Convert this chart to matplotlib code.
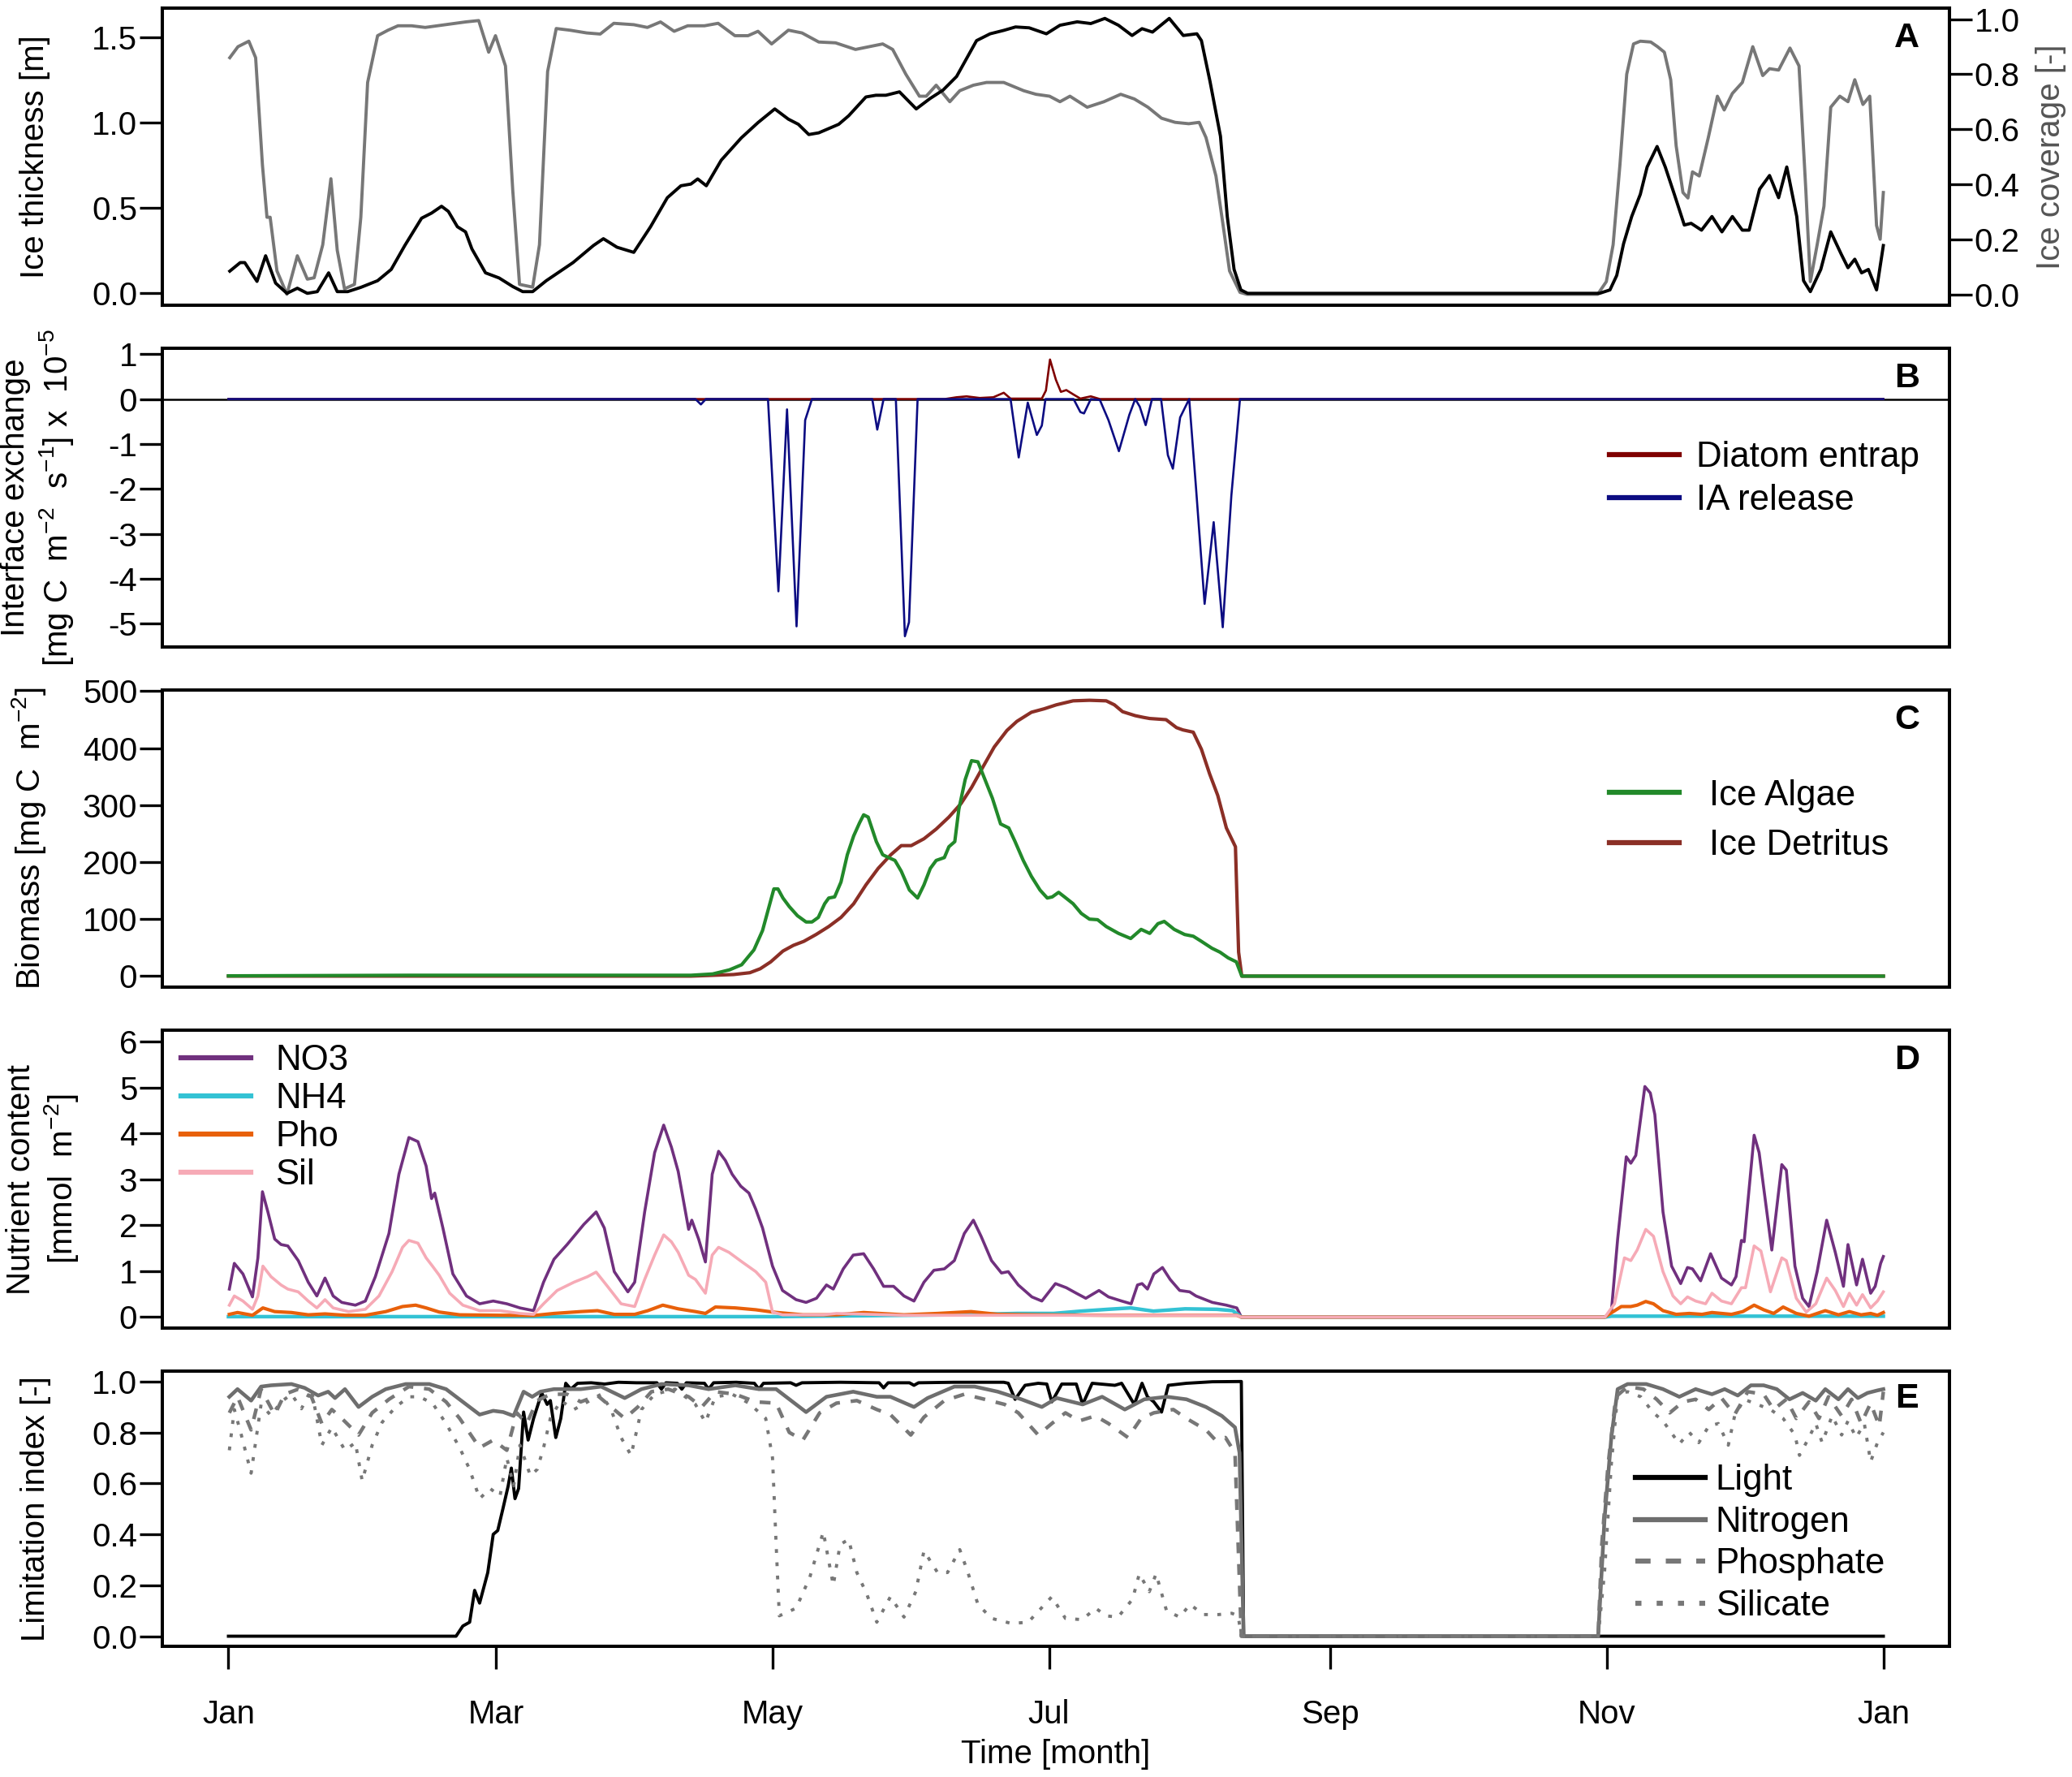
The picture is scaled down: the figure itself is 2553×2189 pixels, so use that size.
import numpy as np
import matplotlib
matplotlib.use('Agg')
import matplotlib.pyplot as plt

# ---- data (day of year) ----
month_days = [0, 59, 120, 181, 243, 304, 365]
month_labels = ['Jan', 'Mar', 'May', 'Jul', 'Sep', 'Nov', 'Jan']

# A: ice thickness [m] and ice coverage [-]
thick_days = [0.3, 2.6, 3.6, 6.3, 8.2, 10.4, 12.9, 15.2, 17.4, 19.6, 22.1, 24.0, 26.3, 29.2, 32.9,
              35.9, 38.9, 42.6, 44.8, 47.0, 48.5, 50.5, 52.3, 53.7, 56.7, 59.7, 62.7, 64.9, 67.1,
              70.1, 76.0, 80.5, 82.7, 85.7, 89.4, 93.1, 96.8, 99.8, 102.0, 103.5, 105.4, 108.7,
              113.1, 116.8, 120.5, 123.5, 125.7, 128.0, 130.2, 134.6, 136.8, 140.6, 142.8, 145.0,
              148.0, 151.7, 154.7, 157.6, 160.6, 165.0, 168.0, 171.0, 173.6, 176.6, 180.4, 183.4,
              187.2, 190.2, 193.3, 196.3, 199.3, 201.5, 203.8, 207.5, 210.6, 213.6, 214.6, 216.5,
              218.8, 220.3, 221.8, 223.3, 224.8, 302.4, 304.7, 306.2, 307.7, 309.5, 311.4, 312.9,
              315.1, 316.9, 318.9, 321.1, 322.6, 324.9, 327.2, 329.4, 331.7, 333.9, 335.4, 337.7,
              339.9, 341.9, 343.7, 345.9, 347.4, 348.9, 351.2, 353.4, 355.7, 357.2, 358.7, 360.2,
              361.7, 363.5, 365.0]
thick_vals = [0.13, 0.18, 0.18, 0.07, 0.22, 0.06, 0.0, 0.03, 0.0, 0.01, 0.12, 0.01, 0.01, 0.035, 0.074,
              0.14, 0.28, 0.44, 0.47, 0.51, 0.48, 0.39, 0.36, 0.26, 0.12, 0.09, 0.04, 0.01, 0.01,
              0.074, 0.18, 0.28, 0.32, 0.27, 0.24, 0.39, 0.56, 0.63, 0.64, 0.67, 0.63, 0.78,
              0.91, 1.00, 1.08, 1.02, 0.99, 0.93, 0.94, 0.99, 1.04, 1.15, 1.16, 1.16,
              1.18, 1.08, 1.14, 1.19, 1.27, 1.48, 1.52, 1.54, 1.56, 1.555, 1.52, 1.57,
              1.59, 1.58, 1.61, 1.57, 1.51, 1.55, 1.53, 1.61, 1.51, 1.52, 1.48, 1.24,
              0.92, 0.45, 0.14, 0.02, 0.0, 0.0, 0.02, 0.105, 0.29, 0.45, 0.58, 0.74,
              0.86, 0.74, 0.58, 0.40, 0.41, 0.37, 0.45, 0.36, 0.45, 0.37, 0.37, 0.61,
              0.69, 0.56, 0.74, 0.45, 0.074, 0.01, 0.14, 0.36, 0.23, 0.15, 0.20, 0.12,
              0.14, 0.02, 0.28]

cover_days = [0.3, 2.1, 4.5, 6.0, 7.5, 8.5, 9.2, 10.7, 12.9, 15.2, 17.4, 18.9, 20.8, 22.6, 24.0,
              25.6, 27.8, 29.2, 30.7, 32.9, 35.2, 37.4, 40.4, 43.4, 47.8, 52.3, 55.2, 57.4, 58.9,
              61.1, 62.7, 64.2, 67.1, 68.6, 70.4, 72.3, 75.3, 79.0, 82.0, 85.0, 89.4, 92.4, 95.3,
              98.3, 101.3, 105.0, 108.0, 111.7, 114.6, 116.8, 119.8, 123.5, 126.5, 130.2, 133.9,
              138.3, 141.3, 144.3, 146.5, 149.4, 152.4, 153.9, 156.1, 159.1, 161.3, 164.3, 167.2,
              171.0, 175.4, 178.1, 181.1, 183.4, 185.6, 189.4, 193.1, 196.8, 199.8, 202.8, 205.8,
              208.8, 211.8, 214.1, 215.6, 217.8, 219.3, 220.8, 223.1, 224.6, 302.0, 303.9, 305.4,
              306.9, 308.4, 309.9, 311.4, 313.7, 315.2, 316.7, 318.1, 319.3, 320.8, 321.9, 322.9,
              324.4, 326.4, 328.4, 329.9, 331.7, 333.9, 336.2, 338.4, 339.9, 341.9, 344.4, 346.4,
              347.9, 348.9, 350.4, 351.9, 353.4, 355.4, 357.2, 358.7, 360.5, 362.0, 363.5, 364.3,
              365.0]
cover_vals = [0.86, 0.90, 0.92, 0.86, 0.47, 0.28, 0.28, 0.085, 0.0, 0.14, 0.055, 0.06, 0.18, 0.42, 0.16,
              0.02, 0.036, 0.28, 0.77, 0.94, 0.96, 0.976, 0.976, 0.97, 0.98, 0.99, 0.995, 0.88, 0.94,
              0.83, 0.38, 0.036, 0.026, 0.18, 0.81, 0.966, 0.96, 0.95, 0.946, 0.985, 0.98, 0.97, 0.99,
              0.956, 0.976, 0.976, 0.985, 0.94, 0.94, 0.956, 0.91, 0.96, 0.95, 0.917, 0.914,
              0.89, 0.90, 0.91, 0.89, 0.80, 0.72, 0.72, 0.76, 0.70, 0.74, 0.76, 0.77,
              0.77, 0.74, 0.727, 0.72, 0.70, 0.72, 0.68, 0.70, 0.727, 0.71, 0.68, 0.64,
              0.625, 0.62, 0.625, 0.57, 0.43, 0.26, 0.085, 0.007, 0.0, 0.0, 0.046, 0.18,
              0.47, 0.80, 0.91, 0.92, 0.917, 0.90, 0.88, 0.78, 0.54, 0.37, 0.35, 0.445,
              0.43, 0.57, 0.72, 0.67, 0.73, 0.77, 0.90, 0.795, 0.82, 0.815, 0.895, 0.83,
              0.38, 0.046, 0.18, 0.32, 0.68, 0.72, 0.70, 0.78, 0.69, 0.72, 0.25, 0.20,
              0.37]

# B: interface exchange [mg C m-2 s-1] x 1e-5
entrap_days = [0, 158.0, 160.6, 162.8, 165.7, 168.7, 171.0, 172.5, 179.4, 180.3, 181.2, 182.5,
               183.6, 184.8, 186.4, 187.9, 190.2, 192.2, 365]
entrap_vals = [0, 0, 0.04, 0.06, 0.024, 0.04, 0.14, 0.01, 0.01, 0.19, 0.88, 0.43,
               0.16, 0.20, 0.10, 0.01, 0.06, 0.0, 0]

release_days = [0, 103.0, 104.2, 105.3, 119.0, 121.3, 123.2, 125.3, 127.2, 128.7, 142.0, 143.1,
                144.5, 147.2, 149.2, 150.1, 152.0, 172.5, 174.3, 176.3, 178.3, 179.4, 180.2,
                186.4, 187.9, 188.7, 190.2, 192.2, 194.1, 196.4, 198.7, 200.0, 201.0, 202.3,
                203.7, 205.7, 207.2, 208.3, 209.9, 211.9, 213.4, 215.3, 217.3, 219.3, 221.2,
                223.1, 365]
release_vals = [0, 0, -0.12, 0, 0, -4.28, -0.23, -5.06, -0.47, 0, 0, -0.68,
                0, 0, -5.28, -4.97, 0, 0, -1.30, -0.08, -0.80, -0.59, 0,
                0, -0.29, -0.32, 0, -0.02, -0.47, -1.16, -0.35, 0, -0.17, -0.58,
                0, 0, -1.25, -1.55, -0.41, 0, -1.97, -4.56, -2.74, -5.08, -2.15,
                0, 0]

# C: biomass [mg C m-2]
algae_days = [0, 40, 93, 102, 106.8, 110.5, 113.2, 115.9, 117.8, 119.1, 120.3, 121.2, 122.3, 123.7,
              125.5, 127.4, 128.7, 130.1, 131.5, 132.4, 133.7, 135.1, 136.5, 137.9, 139.2, 140.1,
              141.1, 142.9, 144.3, 145.6, 147.0, 148.4, 150.2, 152.0, 153.4, 154.8, 156.1, 157.9,
              158.9, 160.2, 161.1, 162.5, 163.9, 165.3, 166.6, 168.5, 170.3, 172.1, 173.5, 175.3,
              177.1, 179.0, 180.6, 181.7, 183.1, 184.4, 186.3, 188.1, 189.9, 191.7, 193.6, 196.3,
              199.0, 201.3, 203.2, 205.0, 206.4, 208.6, 210.9, 212.8, 214.6, 216.9, 218.7, 220.5,
              222.3, 223.5, 365]
algae_vals = [0.5, 1.5, 1.5, 1.5, 3.8, 11, 20, 46, 80, 118, 153, 153, 137, 122,
              106, 95, 95, 103, 127, 137, 139, 165, 213, 246, 269, 283,
              279, 236, 213, 208, 203, 184, 151, 137, 160, 189, 203, 208,
              227, 236, 293, 345, 378, 376, 350, 312, 267, 260, 236, 203,
              175, 151, 137, 139, 147, 139, 127, 110, 100, 99, 87, 75,
              66, 82, 75, 92, 96, 82, 73, 70, 61, 49, 42, 32,
              25, 0, 0]

detritus_days = [0, 102, 106.8, 111.4, 115.0, 117.3, 119.6, 122.3, 124.6, 126.9, 129.6, 132.4, 135.1,
                 137.9, 140.6, 143.3, 146.1, 148.4, 150.6, 153.4, 156.1, 158.9, 161.6, 163.9, 166.2,
                 168.9, 171.7, 173.9, 177.1, 179.9, 182.6, 186.3, 189.9, 193.6, 195.4, 197.2, 200.0,
                 201.8, 203.2, 206.8, 209.1, 210.5, 212.8, 214.6, 216.4, 218.2, 220.1, 222.1, 222.8,
                 223.5, 365]
detritus_vals = [0, 0, 1.4, 2.8, 6, 13, 25, 44, 54, 61, 73, 87, 103,
                 127, 160, 189, 213, 229, 229, 241, 258, 279, 303, 331, 364,
                 402, 431, 447, 463, 469, 476, 483, 484, 483, 476, 464, 457,
                 454, 452, 450, 436, 432, 428, 398, 355, 317, 260, 227, 42,
                 0, 0]

# D: nutrient content [mmol m-2]
no3_days = [0.2, 1.3, 3.2, 5.3, 6.5, 7.5, 8.7, 10.2, 11.6, 13.1, 15.4, 17.6, 19.5, 21.3, 23.1, 25.0,
            28.0, 30.2, 32.4, 35.4, 37.6, 39.8, 41.8, 43.6, 44.8, 45.5, 47.3, 49.5, 52.5, 55.4, 58.4,
            61.4, 64.3, 67.3, 69.5, 71.8, 74.7, 78.4, 81.1, 82.9, 85.1, 88.1, 89.6, 91.8, 94.0, 96.0,
            97.7, 99.2, 101.5, 102.2, 103.7, 105.2, 106.7, 108.1, 109.6, 111.1, 113.0, 114.8, 116.3,
            117.8, 120.0, 122.2, 125.2, 127.4, 129.7, 131.9, 133.4, 135.6, 137.8, 140.1, 142.3, 144.5,
            146.7, 149.0, 151.2, 153.4, 155.6, 157.9, 160.1, 162.3, 164.3, 166.0, 168.3, 170.5, 172.0,
            174.2, 177.2, 179.4, 182.4, 184.8, 187.0, 189.1, 192.0, 194.1, 197.0, 199.1, 200.5, 201.5,
            202.7, 204.1, 206.0, 207.7, 209.8, 212.0, 213.4, 217.0, 220.1, 222.4, 223.4, 303.6, 305.0,
            306.4, 308.3, 309.3, 310.4, 312.4, 313.6, 314.6, 316.4, 318.3, 320.3, 321.8, 322.9, 324.7,
            326.9, 329.3, 331.5, 332.5, 333.7, 334.3, 336.5, 337.6, 340.4, 342.6, 343.6, 345.5, 347.2,
            348.6, 350.4, 352.5, 354.4, 356.2, 357.2, 359.1, 360.4, 362.2, 363.2, 364.4, 365.0]
no3_vals = [0.61, 1.17, 0.94, 0.44, 1.29, 2.73, 2.29, 1.70, 1.58, 1.55, 1.23, 0.76, 0.46, 0.85, 0.46, 0.32,
            0.26, 0.35, 0.88, 1.82, 3.11, 3.91, 3.82, 3.29, 2.58, 2.70, 1.94, 0.94, 0.46, 0.29, 0.35,
            0.29, 0.20, 0.14, 0.76, 1.26, 1.58, 2.02, 2.29, 1.94, 0.99, 0.55, 0.76, 2.29, 3.58, 4.18,
            3.70, 3.17, 1.91, 2.11, 1.70, 1.20, 3.11, 3.61, 3.41, 3.11, 2.85, 2.70, 2.35,
            1.94, 1.11, 0.58, 0.38, 0.32, 0.41, 0.70, 0.61, 1.05, 1.35, 1.38, 1.05, 0.67,
            0.67, 0.46, 0.35, 0.76, 1.02, 1.05, 1.23, 1.82, 2.11, 1.76, 1.23, 0.96, 0.99,
            0.70, 0.44, 0.35, 0.73, 0.64, 0.52, 0.41, 0.58, 0.44, 0.35, 0.29, 0.70, 0.73,
            0.61, 0.94, 1.08, 0.82, 0.58, 0.55, 0.46, 0.32, 0.26, 0.20, 0.0, 0.0, 0.11,
            1.70, 3.49, 3.35, 3.52, 5.02, 4.88, 4.41, 2.29, 1.11, 0.73, 1.08, 1.05, 0.79,
            1.38, 0.85, 0.70, 0.88, 1.67, 1.64, 3.96, 3.58, 1.46, 3.32, 3.20, 1.11, 0.41,
            0.23, 0.99, 2.11, 1.41, 0.67, 1.58, 0.70, 1.26, 0.52, 0.67, 1.17, 1.32]

nh4_days = [0, 60, 120, 140, 160, 174, 182, 188, 194, 199, 204, 211, 218, 221.5, 223.4, 303.6, 305, 365]
nh4_vals = [0.01, 0.01, 0.01, 0.03, 0.05, 0.08, 0.08, 0.13, 0.17, 0.20, 0.13, 0.18, 0.17, 0.14, 0.0, 0.0,
            0.02, 0.02]

pho_days = [0.2, 2.0, 5.3, 7.6, 10.2, 13.9, 17.6, 21.3, 25.7, 30.2, 34.7, 38.4, 41.3, 43.6, 46.5, 51.0,
            59.9, 67.3, 71.8, 77.7, 81.4, 85.1, 89.6, 92.5, 95.8, 99.2, 103.0, 105.2, 107.4, 111.8,
            116.3, 120.0, 126.7, 134.1, 140.1, 149.0, 156.4, 163.8, 169.7, 178.6, 193.5, 222.4, 223.4,
            303.6, 304.3, 307.2, 309.3, 310.7, 312.6, 314.3, 316.4, 319.3, 322.2, 325.0, 327.2, 331.5,
            334.0, 336.5, 338.6, 340.8, 342.9, 345.8, 348.6, 352.2, 355.1, 357.5, 360.1, 362.2, 363.7,
            365.0]
pho_vals = [0.06, 0.10, 0.04, 0.20, 0.12, 0.10, 0.05, 0.07, 0.04, 0.04, 0.12, 0.23, 0.26, 0.20, 0.11, 0.05,
            0.04, 0.035, 0.08, 0.12, 0.14, 0.06, 0.06, 0.14, 0.26, 0.18, 0.12, 0.08, 0.22, 0.20,
            0.16, 0.11, 0.05, 0.05, 0.10, 0.05, 0.08, 0.12, 0.06, 0.05, 0.04, 0.04, 0.0,
            0.0, 0.05, 0.23, 0.23, 0.26, 0.34, 0.29, 0.14, 0.06, 0.08, 0.06, 0.10, 0.06,
            0.12, 0.26, 0.16, 0.08, 0.22, 0.08, 0.02, 0.14, 0.05, 0.12, 0.05, 0.08, 0.04,
            0.10]

sil_days = [0.2, 1.3, 3.2, 5.3, 6.5, 7.6, 9.4, 11.6, 13.1, 15.4, 17.6, 19.5, 21.3, 23.1, 26.5, 30.2,
            33.2, 36.1, 38.4, 39.8, 41.8, 43.6, 45.0, 46.5, 48.8, 51.7, 55.4, 59.9, 64.3, 67.3, 69.5,
            72.5, 76.2, 79.2, 81.1, 83.6, 86.6, 89.6, 91.8, 94.0, 96.0, 97.7, 99.2, 101.5, 103.0,
            105.2, 106.7, 108.1, 110.4, 113.3, 116.3, 118.5, 120.0, 122.2, 131.2, 134.1, 149.0,
            178.6, 222.4, 223.4, 303.6, 305.7, 307.9, 309.3, 310.7, 312.6, 314.3, 316.4, 318.6,
            320.3, 321.8, 323.6, 325.8, 327.2, 329.3, 331.5, 333.7, 334.6, 336.5, 338.0, 340.1,
            342.6, 343.6, 345.8, 348.0, 350.1, 352.5, 354.4, 356.2, 357.5, 359.1, 360.4, 362.2,
            363.7, 365.0]
sil_vals = [0.26, 0.46, 0.35, 0.17, 0.46, 1.11, 0.88, 0.70, 0.61, 0.55, 0.35, 0.20, 0.38, 0.20, 0.12, 0.17,
            0.46, 0.99, 1.52, 1.67, 1.61, 1.29, 1.11, 0.91, 0.52, 0.26, 0.14, 0.14, 0.08, 0.06, 0.29,
            0.58, 0.76, 0.88, 0.98, 0.67, 0.29, 0.23, 0.82, 1.35, 1.79, 1.64, 1.41, 0.91, 0.82,
            0.52, 1.35, 1.52, 1.41, 1.20, 0.99, 0.76, 0.11, 0.05, 0.05, 0.08, 0.04,
            0.04, 0.04, 0.0, 0.0, 0.29, 1.29, 1.23, 1.46, 1.91, 1.76, 0.99, 0.46,
            0.29, 0.44, 0.35, 0.29, 0.52, 0.35, 0.29, 0.64, 0.64, 1.55, 1.44, 0.55,
            1.29, 1.23, 0.41, 0.11, 0.29, 0.85, 0.58, 0.23, 0.52, 0.26, 0.49, 0.20,
            0.35, 0.55]

# E: limitation index [-]
light_days = [0, 50.2, 51.7, 53.2, 54.3, 55.4, 57.2, 58.4, 59.4, 60.6, 61.7, 62.4, 63.2, 64.0, 65.1,
              66.1, 67.3, 69.1, 70.3, 71.0, 72.2, 73.3, 74.4, 75.5, 77.0, 80, 83, 86, 90, 94.5, 95.5,
              96.5, 99, 100, 101, 105, 105.9, 107, 112, 116, 117, 118, 124, 125.2, 126.5, 135, 143.5,
              144.5, 145.5, 150.2, 151.2, 152.2, 160, 171, 172, 173.5, 175.7, 178.6, 180.5, 181.6,
              183.8, 187, 188.4, 190.5, 195.5, 197, 199.8, 201.5, 202.7, 204.1, 205.8, 207.3, 211.3,
              217, 223.4, 223.9, 365]
light_vals = [0, 0, 0.04, 0.055, 0.18, 0.13, 0.25, 0.40, 0.415, 0.505, 0.59, 0.66, 0.54, 0.58, 0.88,
              0.77, 0.855, 0.955, 0.91, 0.925, 0.78, 0.855, 0.993, 0.97, 0.993, 0.995, 0.99, 0.997, 0.995,
              0.995, 0.97, 0.995, 0.993, 0.97, 0.995, 0.993, 0.97, 0.995, 0.997, 0.993, 0.97, 0.993,
              0.995, 0.985, 0.995, 0.997, 0.995, 0.975, 0.995, 0.995, 0.985, 0.995, 0.997, 0.997, 0.993,
              0.93, 0.985, 0.993, 0.99, 0.92, 0.99, 0.99, 0.91, 0.993, 0.985, 0.993, 0.91, 0.993, 0.94,
              0.92, 0.88, 0.985, 0.993, 0.999, 1.0, 0.0, 0.0]

nitro_days = [0.2, 2.0, 5.0, 7.2, 9.4, 13.9, 16.8, 19.8, 22.0, 23.5, 25.7, 28.7, 31.7, 34.7, 39.1, 44.3,
              48.0, 51.7, 55.4, 58.4, 60.6, 62.9, 65.1, 67.0, 68.8, 71.8, 74.7, 77.7, 82.2, 87.4, 91.1,
              95.5, 101.5, 105.9, 111.8, 117.0, 120.8, 127.4, 131.9, 137.8, 143.0, 146.0, 151.2, 154.2,
              160.1, 164.6, 169.7, 174.9, 179.4, 182.7, 188.4, 192.7, 197.7, 202.0, 207.0, 211.3, 215.6,
              219.1, 222.0, 223.0, 223.9, 302.1, 303.5, 305.0, 306.4, 308.6, 312.7, 316.4, 320.0, 323.6,
              327.2, 330.0, 332.9, 335.8, 338.6, 341.5, 344.3, 347.2, 350.1, 352.2, 355.1, 357.2, 359.4,
              361.5, 363.7, 365.0]
nitro_vals = [0.94, 0.97, 0.925, 0.98, 0.985, 0.99, 0.975, 0.945, 0.96, 0.935, 0.97, 0.90, 0.94, 0.97, 0.99, 0.99,
              0.97, 0.92, 0.87, 0.885, 0.88, 0.865, 0.96, 0.94, 0.96, 0.97, 0.97, 0.97, 0.98, 0.935, 0.97,
              0.99, 0.985, 0.97, 0.985, 0.97, 0.97, 0.88, 0.94, 0.96, 0.94, 0.94, 0.90, 0.935,
              0.98, 0.98, 0.96, 0.93, 0.90, 0.935, 0.91, 0.94, 0.89, 0.93, 0.94, 0.93, 0.90,
              0.865, 0.82, 0.72, 0.0, 0.0, 0.46, 0.78, 0.97, 0.99, 0.99, 0.97, 0.94, 0.97,
              0.95, 0.97, 0.945, 0.985, 0.985, 0.97, 0.93, 0.955, 0.925, 0.97, 0.93, 0.97, 0.935,
              0.955, 0.965, 0.97]

phos_days = [0.2, 2.0, 5.0, 7.2, 10.2, 12.4, 15.4, 18.3, 20.6, 22.8, 25.0, 28.7, 31.7, 35.4, 39.8, 44.3,
             48.0, 51.0, 55.4, 58.4, 61.4, 63.6, 65.8, 68.1, 71.0, 74.7, 77.7, 81.4, 84.4, 87.4, 90.3,
             93.3, 97.0, 101.5, 104.4, 107.4, 111.8, 116.3, 120.8, 123.7, 126.7, 130.4, 134.1, 138.6,
             143.0, 146.0, 150.5, 153.4, 157.9, 162.3, 166.8, 171.2, 174.2, 178.6, 181.6, 184.6, 187.6,
             191.2, 194.1, 198.4, 201.3, 204.1, 208.4, 211.3, 215.6, 217.7, 219.9, 222.0, 223.4, 302.1,
             302.9, 304.3, 306.0, 308.6, 312.1, 315.0, 317.9, 320.8, 323.6, 326.5, 329.3, 332.2, 335.1,
             338.6, 340.8, 343.6, 345.8, 348.6, 350.8, 352.9, 355.8, 358.0, 360.1, 362.2, 364.1, 365.0]
phos_vals = [0.877, 0.94, 0.81, 0.97, 0.87, 0.95, 0.97, 0.94, 0.835, 0.89, 0.855, 0.79, 0.877, 0.93, 0.98, 0.97,
             0.92, 0.855, 0.74, 0.77, 0.73, 0.877, 0.835, 0.925, 0.95, 0.95, 0.92, 0.945, 0.90, 0.855, 0.90,
             0.96, 0.97, 0.94, 0.90, 0.96, 0.95, 0.92, 0.915, 0.80, 0.77, 0.877, 0.915, 0.925,
             0.89, 0.87, 0.79, 0.86, 0.925, 0.95, 0.93, 0.91, 0.877, 0.79, 0.835, 0.877, 0.845,
             0.865, 0.835, 0.78, 0.855, 0.877, 0.89, 0.855, 0.81, 0.77, 0.78, 0.72, 0.0, 0.0,
             0.36, 0.675, 0.94, 0.98, 0.97, 0.93, 0.877, 0.92, 0.93, 0.89, 0.935, 0.87, 0.96,
             0.95, 0.89, 0.93, 0.855, 0.92, 0.855, 0.94, 0.865, 0.93, 0.835, 0.915, 0.825, 0.96]

silic_days = [0.2, 1.3, 2.7, 5.0, 7.2, 9.4, 11.6, 13.9, 16.1, 18.3, 20.6, 22.8, 25.7, 28.0, 29.5, 31.7,
              33.9, 36.9, 39.8, 42.1, 45.0, 48.0, 51.0, 53.2, 55.4, 57.7, 59.9, 61.4, 62.9, 64.3, 66.6,
              68.1, 69.5, 71.0, 73.3, 76.2, 79.2, 82.2, 84.4, 86.6, 88.8, 91.1, 94.0, 98.5, 103.0,
              105.2, 107.4, 111.1, 114.8, 118.5, 120.0, 120.8, 121.5, 125.2, 128.2, 131.2, 133.4, 134.9,
              136.8, 138.6, 140.8, 143.0, 146.0, 149.0, 151.6, 153.4, 156.4, 158.6, 161.3, 163.1, 165.3,
              168.3, 172.7, 176.4, 181.6, 184.6, 188.3, 191.3, 193.5, 196.2, 199.4, 200.9, 203.1, 204.6,
              206.9, 209.8, 212.1, 215.0, 218.4, 221.3, 222.7, 223.4, 302.1, 303.5, 305.0, 306.4, 308.6,
              311.5, 314.3, 316.4, 318.6, 320.0, 322.2, 324.3, 326.5, 328.6, 330.8, 332.2, 334.3, 337.2,
              340.1, 342.9, 345.5, 346.5, 348.6, 350.1, 351.5, 353.7, 355.8, 357.2, 359.0, 360.8, 362.2,
              363.7, 365.0]
silic_vals = [0.73, 0.89, 0.80, 0.64, 0.91, 0.866, 0.92, 0.95, 0.893, 0.97, 0.75, 0.82, 0.73, 0.76, 0.61, 0.75,
              0.84, 0.90, 0.94, 0.94, 0.915, 0.835, 0.74, 0.655, 0.54, 0.58, 0.55, 0.70, 0.59, 0.75, 0.63,
              0.655, 0.74, 0.855, 0.925, 0.89, 0.92, 0.95, 0.89, 0.78, 0.71, 0.89, 0.95, 0.97, 0.91,
              0.84, 0.94, 0.95, 0.915, 0.855, 0.70, 0.36, 0.08, 0.11, 0.23, 0.41, 0.20, 0.36,
              0.38, 0.25, 0.165, 0.055, 0.155, 0.075, 0.175, 0.335, 0.25, 0.25, 0.34, 0.25, 0.125,
              0.07, 0.05, 0.055, 0.155, 0.07, 0.065, 0.11, 0.08, 0.075, 0.145, 0.245, 0.175, 0.245,
              0.10, 0.075, 0.125, 0.085, 0.085, 0.09, 0.08, 0.0, 0.0, 0.25, 0.675, 0.95, 0.96,
              0.94, 0.877, 0.845, 0.79, 0.755, 0.80, 0.76, 0.825, 0.835, 0.75, 0.865, 0.93, 0.91,
              0.89, 0.855, 0.79, 0.71, 0.78, 0.835, 0.76, 0.865, 0.79, 0.845, 0.78, 0.835, 0.685,
              0.76, 0.80]

# ---- style ----
plt.rcParams['font.family'] = ['Liberation Sans', 'DejaVu Sans']
plt.rcParams['mathtext.fontset'] = 'custom'
plt.rcParams['mathtext.rm'] = 'Liberation Sans'
plt.rcParams['mathtext.it'] = 'Liberation Sans:italic'
plt.rcParams['axes.unicode_minus'] = False
plt.rcParams['axes.linewidth'] = 2.9

FS = 29
LEG_FS = 31.5
XLIM = (-14.6, 379.6)
LEFT, WIDTH = 0.0783, 0.8626

fig = plt.figure(figsize=(25.53, 21.89), dpi=100)

# bottom, height of each panel (figure fraction)
panel_pos = {'A': (0.8282, 0.1672), 'B': (0.6359, 0.1681), 'C': (0.4445, 0.1672),
             'D': (0.2526, 0.1675), 'E': (0.0735, 0.1548)}


def make_panel(key, ylim, yticks, yticklabels, ylabel, label_x):
    b, h = panel_pos[key]
    ax = fig.add_axes([LEFT, b, WIDTH, h])
    ax.set_xlim(*XLIM)
    ax.set_ylim(*ylim)
    ax.set_yticks(yticks)
    ax.set_yticklabels(yticklabels)
    ax.set_xticks([])
    ax.tick_params(axis='y', direction='out', length=20, width=2.4, labelsize=FS, pad=2)
    ax.set_ylabel(ylabel, fontsize=FS, va='center', multialignment='center')
    ax.yaxis.set_label_coords(label_x, 0.5)
    ax.text(0.976, 0.90, key, transform=ax.transAxes, fontsize=31, fontweight='bold',
            ha='center', va='center')
    return ax


def small_legend(ax, handles, labels, anchor, textpad, spacing, lw=4.5):
    leg = ax.legend(handles, labels, loc='upper left', bbox_to_anchor=anchor, frameon=False,
                    fontsize=LEG_FS, handlelength=1.97, handletextpad=textpad,
                    labelspacing=spacing, borderpad=0, borderaxespad=0)
    for ln in leg.get_lines():
        ln.set_linewidth(lw)
    return leg


# A: ice thickness + coverage
axA = make_panel('A', (-0.07, 1.67), [0, 0.5, 1.0, 1.5], ['0.0', '0.5', '1.0', '1.5'],
                 'Ice thickness [m]', -0.0713)
axA2 = axA.twinx()
axA2.set_xlim(*XLIM)
axA2.set_ylim(-0.04, 1.04)
cov_ticks = [0, 0.2, 0.4, 0.6, 0.8, 1.0]
axA2.set_yticks(cov_ticks)
axA2.set_yticklabels(['%.1f' % t for t in cov_ticks])
axA2.tick_params(axis='y', direction='out', length=20, width=2.4, labelsize=FS, pad=2)
axA2.set_ylabel('Ice coverage [-]', fontsize=FS, color='#555555', va='center', rotation=90)
axA2.yaxis.set_label_coords(1.0568, 0.5)
axA2.plot(cover_days, cover_vals, color='#777777', lw=2.8)
axA.plot(thick_days, thick_vals, color='black', lw=2.8)
axA.set_zorder(axA2.get_zorder() + 1)
axA.patch.set_visible(False)

# B: interface exchange
axB = make_panel('B', (-5.52, 1.13), [1, 0, -1, -2, -3, -4, -5],
                 ['1', '0', '-1', '-2', '-3', '-4', '-5'],
                 'Interface exchange\n[mg C  m$^{-2}$  s$^{-1}$] x  10$^{-5}$', -0.0697)
axB.axhline(0, color='black', lw=1.8, zorder=1)
lB1, = axB.plot(entrap_days, entrap_vals, color='#7f0000', lw=1.9)
lB2, = axB.plot(release_days, release_vals, color='#0c0c82', lw=1.9)
small_legend(axB, [lB1, lB2], ['Diatom entrap', 'IA release'], (0.8097, 0.69), 0.48, 0.28)

# C: biomass
axC = make_panel('C', (-19.3, 502), [0, 100, 200, 300, 400, 500],
                 ['0', '100', '200', '300', '400', '500'],
                 'Biomass [mg C  m$^{-2}$]', -0.0745)
lC2, = axC.plot(detritus_days, detritus_vals, color='#8b2f26', lw=3.0)
lC1, = axC.plot(algae_days, algae_vals, color='#22892a', lw=3.0)
small_legend(axC, [lC1, lC2], ['Ice Algae', 'Ice Detritus'], (0.8097, 0.70), 0.84, 0.46)

# D: nutrients
axD = make_panel('D', (-0.24, 6.24), [0, 1, 2, 3, 4, 5, 6],
                 ['0', '1', '2', '3', '4', '5', '6'],
                 'Nutrient content\n[mmol  m$^{-2}$]', -0.0668)
lD1, = axD.plot(no3_days, no3_vals, color='#70307e', lw=2.6)
lD2, = axD.plot(nh4_days, nh4_vals, color='#33c2d4', lw=3.2)
lD3, = axD.plot(pho_days, pho_vals, color='#e8600a', lw=3.0)
lD4, = axD.plot(sil_days, sil_vals, color='#f6aab6', lw=2.6)
small_legend(axD, [lD1, lD2, lD3, lD4], ['NO3', 'NH4', 'Pho', 'Sil'], (0.0104, 0.955), 0.69, 0.14)

# E: limitation index
lim_ticks = [0, 0.2, 0.4, 0.6, 0.8, 1.0]
axE = make_panel('E', (-0.04, 1.04), lim_ticks, ['%.1f' % t for t in lim_ticks],
                 'Limitation index [-]', -0.0708)
lE1, = axE.plot(light_days, light_vals, color='black', lw=2.8)
lE2, = axE.plot(nitro_days, nitro_vals, color='#6e6e6e', lw=3.3)
lE3, = axE.plot(phos_days, phos_vals, color='#777777', lw=3.2, dashes=(3, 3))
lE4, = axE.plot(silic_days, silic_vals, color='#777777', lw=2.8, dashes=(1.2, 3))
small_legend(axE, [lE1, lE2, lE3, lE4], ['Light', 'Nitrogen', 'Phosphate', 'Silicate'],
             (0.824, 0.663), 0.3, 0.24)
axE.set_xticks(month_days)
axE.set_xticklabels(month_labels)
axE.tick_params(axis='x', direction='out', length=20, width=2.4, labelsize=FS, pad=27)
axE.set_xlabel('Time [month]', fontsize=FS, labelpad=8)

fig.savefig('out.png', dpi=100)
